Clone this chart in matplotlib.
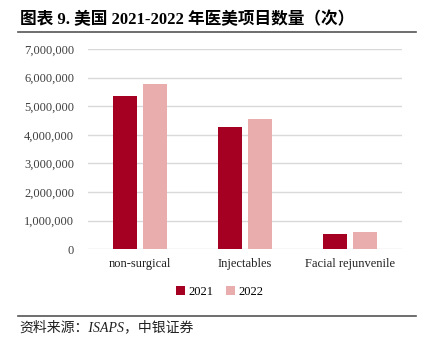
import matplotlib.pyplot as plt
from matplotlib.lines import Line2D
import numpy as np

categories = ['non-surgical', 'Injectables', 'Facial rejunvenile']
v2021 = [5340000, 4270000, 530000]
v2022 = [5780000, 4550000, 600000]
yticks = [0, 1000000, 2000000, 3000000, 4000000, 5000000, 6000000, 7000000]

c2021 = '#A50021'
c2022 = '#EAADAD'
serif = ['Liberation Serif', 'DejaVu Serif']
cjk = ['Liberation Serif', 'Noto Sans CJK SC']

fig = plt.figure(figsize=(4.28, 3.5), dpi=100)
ax = fig.add_axes([88/428, 1-249.3/350, 314/428, (249.3-49)/350])

x = np.arange(len(categories))
w = 0.23
gap = 0.057
ax.bar(x - (w+gap)/2, v2021, w, color=c2021, label='2021', zorder=3)
ax.bar(x + (w+gap)/2, v2022, w, color=c2022, label='2022', zorder=3)

ax.set_xlim(-0.5, 2.5)
ax.set_ylim(0, 7000000)
ax.set_yticks(yticks)
ax.set_yticklabels(['{:,}'.format(v) for v in yticks], family=serif, fontsize=9, color='#404040')
ax.set_xticks(x)
ax.set_xticklabels(categories, family=serif, fontsize=9, color='#202020')
ax.tick_params(length=0, pad=10)
ax.tick_params(axis='x', pad=6)
ax.grid(axis='y', color='#D9D9D9', lw=1, zorder=0)
for s in ax.spines.values():
    s.set_visible(False)

leg = fig.legend(loc='center', bbox_to_anchor=(220/428, 1-292/350), ncol=2, frameon=False,
                 prop={'family': serif, 'size': 9}, handlelength=0.7, handleheight=0.7,
                 handletextpad=0.3, columnspacing=1.0)

fig.text(20/428, 1-19.5/350, '图表 9. 美国 2021-2022 年医美项目数量（次）', family=cjk,
         fontsize=12, fontweight='bold', va='center', ha='left')
fig.add_artist(Line2D([18/428, 416/428], [1-31.5/350, 1-31.5/350], color='#555555', lw=1.2))
fig.add_artist(Line2D([18/428, 416/428], [1-315.7/350, 1-315.7/350], color='#555555', lw=1.2))
fig.text(19/428, 1-327/350, '资料来源：ISAPS，中银证券', family=cjk, fontsize=10,
         style='italic', va='center', ha='left', color='#202020')

fig.savefig('out.png', dpi=100)
